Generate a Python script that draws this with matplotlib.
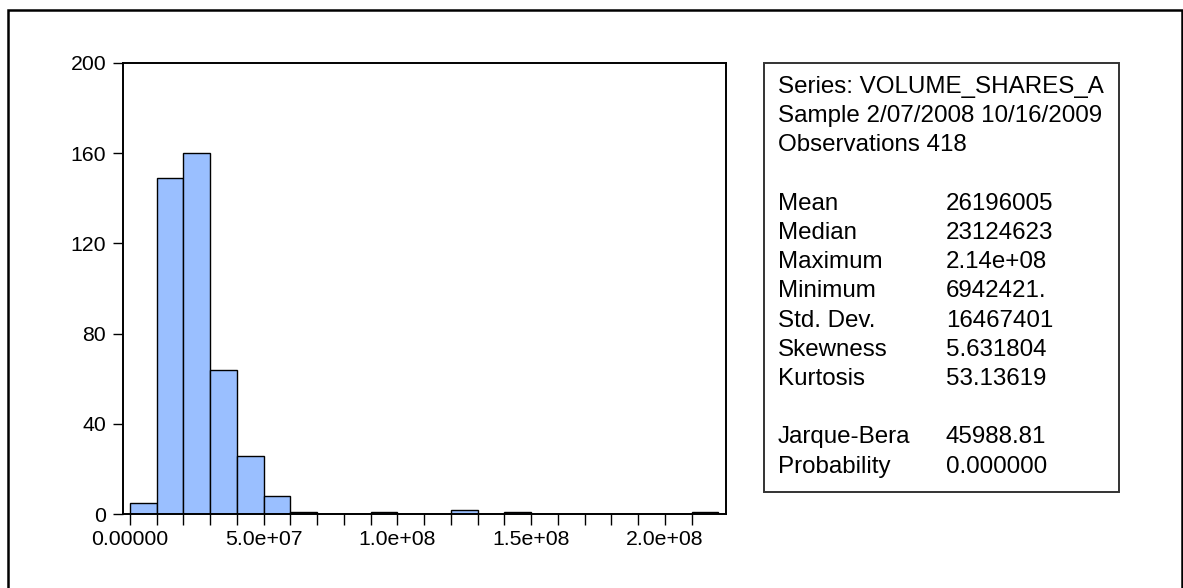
import matplotlib
matplotlib.use("Agg")
import matplotlib.pyplot as plt
from matplotlib.patches import Rectangle
import numpy as np

plt.rcParams["font.family"] = ["Liberation Sans", "DejaVu Sans"]

# Histogram of daily volume: bin edges every 1e7, counts per bin
bin_width = 1.0e7
bin_starts = np.arange(0, 22) * bin_width
counts = [5, 149, 160, 64, 26, 8, 1, 0, 0, 1, 0, 0, 2, 0, 1, 0, 0, 0, 0, 0, 0, 1]

y_ticks = [0, 40, 80, 120, 160, 200]
x_ticks = [0, 5.0e7, 1.0e8, 1.5e8, 2.0e8]
x_tick_labels = ["0.00000", "5.0e+07", "1.0e+08", "1.5e+08", "2.0e+08"]

header_lines = ["Series: VOLUME_SHARES_A",
                "Sample 2/07/2008 10/16/2009",
                "Observations 418"]
stat_names = ["Mean", "Median", "Maximum", "Minimum", "Std. Dev.",
              "Skewness", "Kurtosis", "", "Jarque-Bera", "Probability"]
stat_values = ["26196005", "23124623", "2.14e+08", "6942421.", "16467401",
               "5.631804", "53.13619", "", "45988.81", "0.000000"]

W, H = 1183, 588
fig = plt.figure(figsize=(W / 100, H / 100), dpi=100)
fig.patch.set_facecolor("white")


def fx(px):
    return px / W


def fy(py):
    return 1 - py / H


# axes placed in pixel terms
ax_l, ax_r, ax_t, ax_b = 122.7, 726.0, 62.7, 514.3
ax = fig.add_axes([fx(ax_l), fy(ax_b), fx(ax_r - ax_l), (ax_b - ax_t) / H])

ax.bar(bin_starts, counts, width=bin_width, align="edge",
       color="#9ABFFF", edgecolor="black", linewidth=1.0)

ax.set_xlim(-2.7e6, 2.229e8)
ax.set_ylim(0, 200)

ax.set_yticks(y_ticks)
ax.set_yticklabels([str(v) for v in y_ticks])
ax.set_xticks(bin_starts, minor=True)
ax.set_xticks(x_ticks)
ax.set_xticklabels(x_tick_labels)

ax.tick_params(axis="y", direction="out", length=7, width=1, pad=5,
               labelsize=15.3, colors="black")
ax.tick_params(axis="x", which="both", direction="out", length=8, width=1,
               pad=3, labelsize=15.3, colors="black")
ax.tick_params(axis="x", which="minor", length=8)

for side in ["left", "right", "top", "bottom"]:
    ax.spines[side].set_linewidth(1.4)
    ax.spines[side].set_color("black")

# outer frame around the whole graph
fig.patches.append(Rectangle((fx(8), fy(700)), fx(1182 - 8), (700 - 10) / H,
                             transform=fig.transFigure, fill=False,
                             edgecolor="black", linewidth=1.8, clip_on=False))

# statistics box
bx_l, bx_r, bx_t, bx_b = 764, 1118.7, 62.7, 491.7
fig.patches.append(Rectangle((fx(bx_l), fy(bx_b)), fx(bx_r - bx_l),
                             (bx_b - bx_t) / H, transform=fig.transFigure,
                             fill=False, edgecolor="#333333", linewidth=1.4))

line0 = 87.0
step = 29.2
fs = 17.4
for i, txt in enumerate(header_lines):
    fig.text(fx(778), fy(line0 + step * i), txt, fontsize=fs,
             va="center", ha="left")
for j, (name, val) in enumerate(zip(stat_names, stat_values)):
    y = fy(line0 + step * (4 + j))
    if name:
        fig.text(fx(778), y, name, fontsize=fs, va="center", ha="left")
        fig.text(fx(945.7), y, val, fontsize=fs, va="center", ha="left")

fig.savefig("out.png", dpi=100)
